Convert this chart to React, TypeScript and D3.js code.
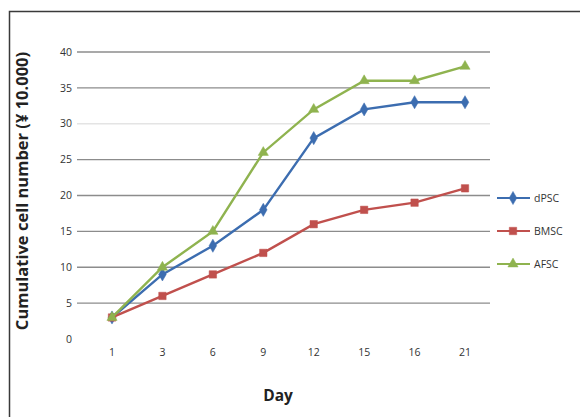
import React from "react";
import * as d3 from "d3";

const days = ["1", "3", "6", "9", "12", "15", "16", "21"];
const dPSC = [3, 9, 13, 18, 28, 32, 33, 33];
const BMSC = [3, 6, 9, 12, 16, 18, 19, 21];
const AFSC = [3, 10, 15, 26, 32, 36, 36, 38];
const yTicks = [0, 5, 10, 15, 20, 25, 30, 35, 40];
const seriesNames = ["dPSC", "BMSC", "AFSC"];
const seriesColors = ["#3c6db0", "#c0504d", "#8fb34f"];
const seriesShapes = ["diamond", "square", "triangle"];

export default function App() {
  const W = 580, H = 417;
  const x = d3.scalePoint<string>().domain(days).range([112, 465]);
  const y = d3.scaleLinear().domain([0, 40]).range([339, 52]);
  const gridX0 = 77, gridX1 = 490;
  const seriesData = [dPSC, BMSC, AFSC];
  const line = d3.line<number>().x((_, i) => x(days[i])!).y((v) => y(v));

  const marker = (shape: string, cx: number, cy: number, color: string, key: string) => {
    const sym =
      shape === "diamond" ? d3.symbolDiamond : shape === "square" ? d3.symbolSquare : d3.symbolTriangle;
    const size = shape === "diamond" ? 50 : shape === "square" ? 55 : 45;
    const p = d3.symbol().type(sym).size(size)()!;
    return <path key={key} d={p} transform={`translate(${cx},${cy})`} fill={color} stroke={color} strokeWidth={0.5} />;
  };

  return (
    <svg width={W} height={H} style={{ position: "absolute", left: 0, top: 0, background: "#fff" }}>
      <rect x={0} y={0} width={W} height={H} fill="#fff" />
      <path d={`M9.5,${H} L9.5,11.5 L${W},11.5`} fill="none" stroke="#3a3a3a" strokeWidth={1.5} />
      {yTicks.map((t) => (
        <g key={t}>
          {t > 0 && (
            <line
              x1={gridX0}
              x2={gridX1}
              y1={y(t)}
              y2={y(t)}
              stroke={t === 30 ? "#e4e4e4" : "#8c8c8c"}
              strokeWidth={1.3}
            />
          )}
          <text
            x={72}
            y={y(t)}
            dy="0.35em"
            textAnchor="end"
            fontFamily="'Open Sans', sans-serif"
            fontSize={10.5}
            fill="#333"
          >
            {t}
          </text>
        </g>
      ))}
      {days.map((d) => (
        <text
          key={d}
          x={x(d)!}
          y={352}
          dy="0.35em"
          textAnchor="middle"
          fontFamily="'Open Sans', sans-serif"
          fontSize={10.5}
          fill="#333"
        >
          {d}
        </text>
      ))}
      {seriesData.map((s, si) => (
        <g key={si}>
          <path d={line(s)!} fill="none" stroke={seriesColors[si]} strokeWidth={2.4} />
          {s.map((v, i) => marker(seriesShapes[si], x(days[i])!, y(v), seriesColors[si], `${si}-${i}`))}
        </g>
      ))}
      {seriesNames.map((n, i) => {
        const ly = 198 + i * 33;
        return (
          <g key={n}>
            <line x1={497} x2={530} y1={ly} y2={ly} stroke={seriesColors[i]} strokeWidth={2.2} />
            {marker(seriesShapes[i], 513, ly, seriesColors[i], `l${i}`)}
            <text
              x={534}
              y={ly}
              dy="0.35em"
              fontFamily="'Open Sans', sans-serif"
              fontSize={10.5}
              fill="#333"
            >
              {n}
            </text>
          </g>
        );
      })}
      <text
        transform={`translate(28,191) rotate(-90)`}
        textAnchor="middle"
        fontFamily="'Open Sans', sans-serif"
        fontWeight="bold"
        fontSize={16.5}
        fill="#222"
      >
        Cumulative cell number (¥ 10.000)
      </text>
      <text
        x={278}
        y={401}
        textAnchor="middle"
        fontFamily="'Open Sans', sans-serif"
        fontWeight="bold"
        fontSize={15.5}
        fill="#222"
      >
        Day
      </text>
    </svg>
  );
}
